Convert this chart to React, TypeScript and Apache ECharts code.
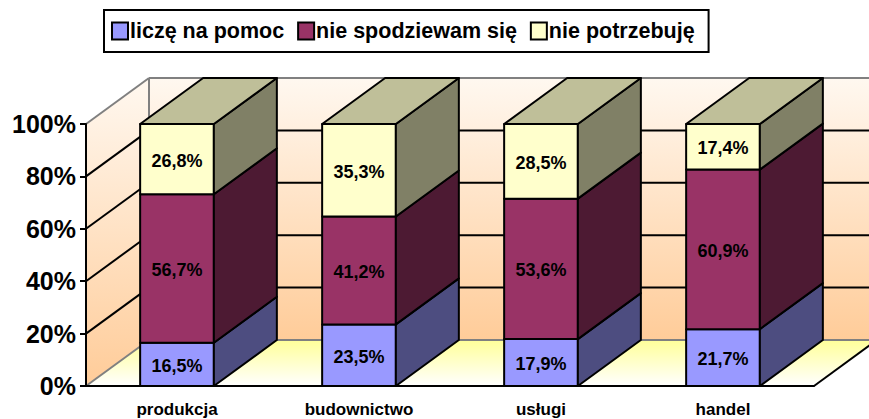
import React, { useEffect, useRef } from "react";
import * as echarts from "echarts";

const categories = ["produkcja", "budownictwo", "usługi", "handel"];
const seriesNames = ["liczę na pomoc", "nie spodziewam się", "nie potrzebuję"];
const liczeNaPomoc = [16.5, 23.5, 17.9, 21.7];
const nieSpodziewamSie = [56.7, 41.2, 53.6, 60.9];
const niePotrzebuje = [26.8, 35.3, 28.5, 17.4];
const yTicks = [0, 20, 40, 60, 80, 100];

const DX = 63;
const DY = 46;
const FRONT = ["#9999ff", "#993366", "#ffffcc"];
const SIDE = ["#4d4d80", "#4d1a33", "#808066"];
const TOP = "#bfbf99";
const FONT = "'Liberation Sans', Arial, sans-serif";

function poly(points: number[][], fill: string) {
  return {
    type: "polygon",
    shape: { points },
    style: { fill, stroke: "#000", lineWidth: 2, lineJoin: "round" },
  };
}

function line(a: number[], b: number[], stroke: string, lineWidth = 2) {
  return {
    type: "line",
    shape: { x1: a[0], y1: a[1], x2: b[0], y2: b[1] },
    style: { stroke, lineWidth },
  };
}

function renderRoom(params: any, api: any) {
  const cs = params.coordSys;
  const x0 = cs.x;
  const x1 = cs.x + cs.width;
  const yOf = (v: number) => api.coord([0, v])[1];
  const b = yOf(0);
  const t = yOf(100);
  const wallFill = new echarts.graphic.LinearGradient(0, 0, 0, 1, [
    { offset: 0, color: "#fff8f0" },
    { offset: 1, color: "#ffcc99" },
  ]);
  const floorFill = new echarts.graphic.LinearGradient(0, 1, 0, 0, [
    { offset: 0, color: "#ffffff" },
    { offset: 1, color: "#ffff99" },
  ]);
  const noLine = { lineWidth: 0 };
  const children: any[] = [
    { type: "polygon", shape: { points: [[x0 + DX, t - DY], [x1 + DX, t - DY], [x1 + DX, b - DY], [x0 + DX, b - DY]] }, style: { fill: wallFill, ...noLine } },
    { type: "polygon", shape: { points: [[x0, t], [x0 + DX, t - DY], [x0 + DX, b - DY], [x0, b]] }, style: { fill: wallFill, ...noLine } },
    { type: "polygon", shape: { points: [[x0, b], [x1, b], [x1 + DX, b - DY], [x0 + DX, b - DY]] }, style: { fill: floorFill, ...noLine } },
  ];
  yTicks.forEach((v) => {
    const y = yOf(v);
    const c = v === 0 || v === 100 ? "#808080" : "#000";
    children.push(line([x0, y], [x0 + DX, y - DY], c));
    children.push(line([x0 + DX, y - DY], [x1 + DX, y - DY], c));
  });
  children.push(line([x0 + DX, t - DY], [x0 + DX, b - DY], "#808080"));
  children.push(line([x1, b], [x1 + DX, b - DY], "#000"));
  return { type: "group", children };
}

function makeBarRenderer(level: number, isTop: boolean) {
  return (_params: any, api: any) => {
    const band = api.size([1, 0])[0];
    const w = band * 0.405;
    const c = api.coord([api.value(0), api.value(1)]);
    const e = api.coord([api.value(0), api.value(2)]);
    const l = c[0] - w / 2;
    const r = c[0] + w / 2;
    const yb = c[1];
    const yt = e[1];
    const children: any[] = [
      poly([[l, yt], [r, yt], [r, yb], [l, yb]], FRONT[level]),
      poly([[r, yt], [r + DX, yt - DY], [r + DX, yb - DY], [r, yb]], SIDE[level]),
    ];
    if (isTop) {
      children.push(poly([[l, yt], [l + DX, yt - DY], [r + DX, yt - DY], [r, yt]], TOP));
    }
    children.push({
      type: "text",
      style: {
        x: c[0],
        y: (yb + yt) / 2 + 1.5,
        text: api.value(3).toFixed(1).replace(".", ",") + "%",
        fill: "#000",
        font: `bold 18px ${FONT}`,
        align: "center",
        verticalAlign: "middle",
      },
    });
    return { type: "group", children };
  };
}

function stacked(values: number[], below: number[]) {
  return values.map((v, i) => [i, below[i], below[i] + v, v]);
}

export default function App() {
  const ref = useRef<HTMLDivElement>(null);
  useEffect(() => {
    document.body.style.margin = "0";
    const chart = echarts.init(ref.current!, undefined, { renderer: "svg" });
    const base1 = categories.map(() => 0);
    const base2 = liczeNaPomoc.slice();
    const base3 = liczeNaPomoc.map((v, i) => v + nieSpodziewamSie[i]);
    const levels = [liczeNaPomoc, nieSpodziewamSie, niePotrzebuje];
    const bases = [base1, base2, base3];
    chart.setOption({
      animation: false,
      backgroundColor: "#fff",
      textStyle: { fontFamily: FONT },
      grid: { left: 86, top: 124, width: 728, height: 262, containLabel: false },
      legend: {
        left: 104,
        top: 10,
        data: seriesNames,
        selectedMode: false,
        backgroundColor: "#fff",
        borderColor: "#000",
        borderWidth: 2,
        borderRadius: 0,
        padding: [10, 14, 10, 7],
        itemGap: 13,
        itemWidth: 16,
        itemHeight: 17,
        icon: "rect",
        itemStyle: { borderColor: "#000", borderWidth: 2 },
        textStyle: { fontFamily: FONT, fontWeight: "bold", fontSize: 21.5, lineHeight: 22, color: "#000", padding: [0, 0, 0, -3] },
      },
      xAxis: {
        type: "category",
        data: categories,
        z: 10,
        axisLine: { lineStyle: { color: "#000", width: 2 } },
        axisTick: { alignWithLabel: false, length: 5, lineStyle: { color: "#000", width: 2 } },
        axisLabel: { color: "#000", fontWeight: "bold", fontSize: 17, margin: 15, fontFamily: FONT },
        splitLine: { show: false },
      },
      yAxis: {
        type: "value",
        min: 0,
        max: 100,
        interval: 20,
        z: 10,
        axisLine: { show: true, lineStyle: { color: "#000", width: 2 } },
        axisTick: { show: true, length: 6, lineStyle: { color: "#000", width: 2 } },
        axisLabel: { color: "#000", fontWeight: "bold", fontSize: 25, margin: 10, padding: [0, 0, 3, 0], fontFamily: FONT, formatter: "{value}%" },
        splitLine: { show: false },
      },
      series: [
        {
          type: "custom",
          name: "room",
          z: 1,
          silent: true,
          renderItem: renderRoom,
          data: [[0, 0]],
          encode: { x: 0, y: 1 },
        },
        ...seriesNames.map((name, k) => ({
          type: "custom",
          name,
          z: 3 + k,
          itemStyle: { color: FRONT[k] },
          renderItem: makeBarRenderer(k, k === seriesNames.length - 1),
          data: stacked(levels[k], bases[k]),
          encode: { x: 0, y: [1, 2] },
        })),
      ],
    });
    return () => chart.dispose();
  }, []);
  return <div ref={ref} style={{ width: 869, height: 419 }} />;
}
